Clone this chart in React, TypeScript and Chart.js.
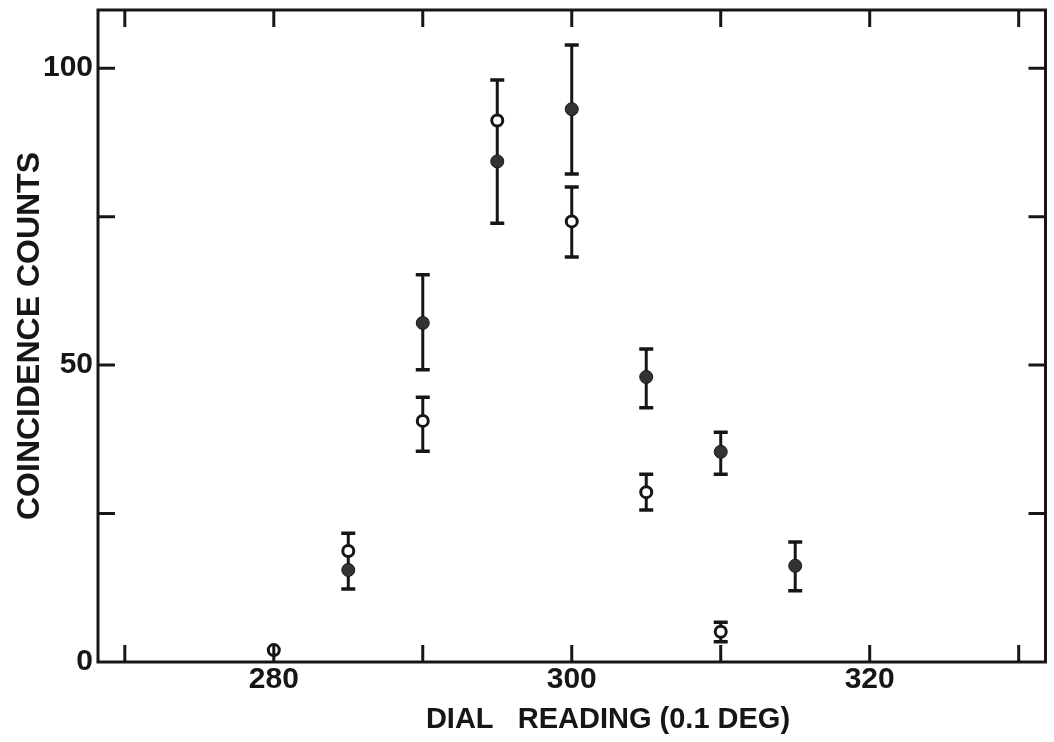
import React, { useEffect, useRef } from 'react';
import { Chart, registerables } from 'chart.js';

Chart.register(...registerables);

// Axis ticks (every 10 in dial reading, every 25 in counts); only some carry labels
const xTicks = [270, 280, 290, 300, 310, 320, 330];
const xLabelled = [280, 300, 320];
const yTicks = [0, 25, 50, 75, 100];
const yLabelled = [0, 50, 100];

// Filled circles
const filledX = [285, 290, 295, 300, 305, 310, 315];
const filledY = [15.5, 57.1, 84.3, 93.1, 48.0, 35.4, 16.2];
const filledLow = [12.3, 49.2, 73.9, 82.2, 42.8, 31.6, 12.0];
const filledHigh = [18.7, 65.2, 91.2, 103.9, 52.7, 38.7, 20.2];

// Open circles
const openX = [280, 285, 290, 295, 300, 305, 310];
const openY = [2.0, 18.7, 40.6, 91.2, 74.2, 28.6, 5.1];
const openLow = [2.0, 15.5, 35.5, 84.3, 68.2, 25.6, 3.4];
const openHigh = [2.0, 21.7, 44.6, 98.0, 80.0, 31.6, 6.7];

const X_MIN = 268.2;
const X_MAX = 331.8;
const Y_MIN = 0;
const Y_MAX = 109.8;

const INK = '#161616';

// Vertical error bars: intervals sharing a dial reading are merged so that a
// single bar with end caps is drawn where they overlap.
const errorBarPlugin = {
  id: 'errorBars',
  beforeDatasetsDraw(chart: any) {
    const { ctx, scales } = chart;
    const xs = scales.x;
    const ys = scales.y;
    const byX = new Map<number, [number, number][]>();
    const add = (xArr: number[], lo: number[], hi: number[]) => {
      xArr.forEach((x, i) => {
        if (hi[i] - lo[i] <= 0) return;
        if (!byX.has(x)) byX.set(x, []);
        byX.get(x)!.push([lo[i], hi[i]]);
      });
    };
    add(filledX, filledLow, filledHigh);
    add(openX, openLow, openHigh);
    ctx.save();
    ctx.strokeStyle = INK;
    ctx.lineCap = 'butt';
    byX.forEach((intervals, x) => {
      intervals.sort((a, b) => a[0] - b[0]);
      const merged: [number, number][] = [];
      for (const iv of intervals) {
        const last = merged[merged.length - 1];
        if (last && iv[0] <= last[1]) last[1] = Math.max(last[1], iv[1]);
        else merged.push([iv[0], iv[1]]);
      }
      const px = xs.getPixelForValue(x);
      for (const [lo, hi] of merged) {
        const pLo = ys.getPixelForValue(lo);
        const pHi = ys.getPixelForValue(hi);
        ctx.lineWidth = 3;
        ctx.beginPath();
        ctx.moveTo(px, pLo);
        ctx.lineTo(px, pHi);
        ctx.stroke();
        ctx.lineWidth = 3.5;
        ctx.beginPath();
        ctx.moveTo(px - 7, pLo);
        ctx.lineTo(px + 7, pLo);
        ctx.moveTo(px - 7, pHi);
        ctx.lineTo(px + 7, pHi);
        ctx.stroke();
      }
    });
    ctx.restore();
  },
};

// Box frame with inward tick marks on all four sides, plus the x-axis title
const framePlugin = {
  id: 'frame',
  afterDraw(chart: any) {
    const { ctx, chartArea, scales } = chart;
    const { left, right, top, bottom } = chartArea;
    const len = 17;
    ctx.save();
    ctx.strokeStyle = INK;
    ctx.lineWidth = 3;
    ctx.strokeRect(left, top, right - left, bottom - top);
    ctx.beginPath();
    xTicks.forEach((v) => {
      const px = scales.x.getPixelForValue(v);
      ctx.moveTo(px, bottom);
      ctx.lineTo(px, bottom - len);
      ctx.moveTo(px, top);
      ctx.lineTo(px, top + len);
    });
    yTicks.forEach((v) => {
      if (v === Y_MIN) return;
      const py = scales.y.getPixelForValue(v);
      ctx.moveTo(left, py);
      ctx.lineTo(left + len, py);
      ctx.moveTo(right, py);
      ctx.lineTo(right - len, py);
    });
    ctx.stroke();

    ctx.fillStyle = INK;
    ctx.font = 'bold 29px "Liberation Sans"';
    ctx.textAlign = 'center';
    ctx.textBaseline = 'middle';
    ctx.fillText('DIAL   READING (0.1 DEG)', 608, 720);
    ctx.restore();
  },
};

export default function App() {
  const canvasRef = useRef<HTMLCanvasElement | null>(null);

  useEffect(() => {
    document.body.style.margin = '0';
    const canvas = canvasRef.current;
    if (!canvas) return;
    const chart = new Chart(canvas, {
      type: 'scatter',
      data: {
        datasets: [
          {
            label: 'filled',
            data: filledX.map((x, i) => ({ x, y: filledY[i] })),
            pointRadius: 6.5,
            pointHoverRadius: 6.5,
            backgroundColor: '#333333',
            borderColor: INK,
            borderWidth: 1,
          },
          {
            label: 'open',
            data: openX.map((x, i) => ({ x, y: openY[i] })),
            pointRadius: 5.5,
            pointHoverRadius: 5.5,
            backgroundColor: '#ffffff',
            borderColor: INK,
            borderWidth: 3,
          },
        ],
      },
      options: {
        responsive: false,
        animation: false,
        events: [],
        layout: { padding: { top: 10, right: 4, left: 0, bottom: 0 } },
        plugins: {
          legend: { display: false },
          tooltip: { enabled: false },
        },
        scales: {
          x: {
            type: 'linear',
            min: X_MIN,
            max: X_MAX,
            grid: { display: false, drawTicks: false },
            border: { display: false },
            afterBuildTicks: (scale: any) => {
              scale.ticks = xTicks.map((value) => ({ value }));
            },
            afterFit: (scale: any) => {
              scale.height = 80;
            },
            ticks: {
              autoSkip: false,
              maxRotation: 0,
              padding: 3,
              color: INK,
              font: { family: 'Liberation Sans', size: 30, weight: 'bold', lineHeight: 1 },
              callback: (v: any) => (xLabelled.includes(Number(v)) ? String(v) : ''),
            },
          },
          y: {
            type: 'linear',
            min: Y_MIN,
            max: Y_MAX,
            grid: { display: false, drawTicks: false },
            border: { display: false },
            afterBuildTicks: (scale: any) => {
              scale.ticks = yTicks.map((value) => ({ value }));
            },
            afterFit: (scale: any) => {
              scale.width = 98;
            },
            title: {
              display: true,
              text: 'COINCIDENCE COUNTS',
              color: INK,
              font: { family: 'Liberation Sans', size: 32, weight: 'bold' },
              padding: { top: 11, bottom: 0 },
            },
            ticks: {
              autoSkip: false,
              padding: 5,
              color: INK,
              font: { family: 'Liberation Sans', size: 30, weight: 'bold', lineHeight: 0.2 },
              callback: (v: any) => (yLabelled.includes(Number(v)) ? String(v) : ''),
            },
          },
        },
      },
      plugins: [errorBarPlugin, framePlugin],
    });
    return () => chart.destroy();
  }, []);

  return (
    <div style={{ width: 1054, height: 742, background: '#ffffff' }}>
      <canvas ref={canvasRef} width={1054} height={742} />
    </div>
  );
}
